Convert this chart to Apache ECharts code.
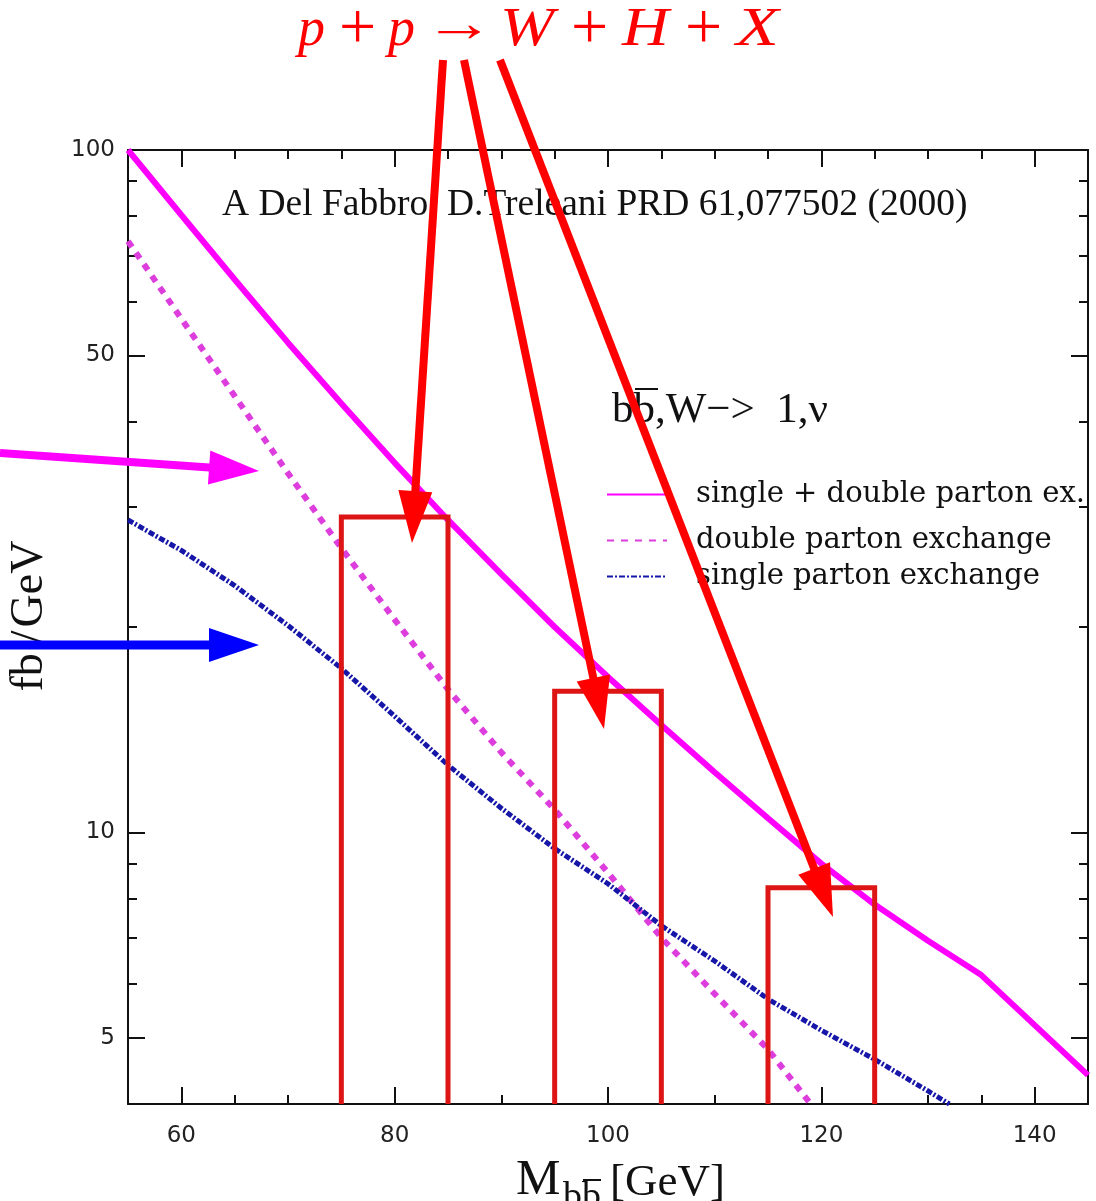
<!DOCTYPE html>
<html>
<head>
<meta charset="utf-8">
<script src="https://cdn.jsdelivr.net/npm/echarts@6/dist/echarts.min.js"></script>
<style>
  html, body { margin: 0; padding: 0; background: #fff; }
  #chart { width: 1096px; height: 1201px; }
</style>
</head>
<body>
<div id="chart"></div>
<script>
// Invariant-mass distribution of the b-bbar pair in p p -> W H X, W -> l nu
// (A. Del Fabbro, D. Treleani, PRD 61, 077502 (2000)).

// M_bb (GeV) and dsigma/dM (fb/GeV) for single + double parton exchange
const totalMass = [55, 60, 65, 70, 75, 80, 85, 90, 95, 100, 105, 110, 115, 120, 125, 130, 135, 140, 145];
const totalXs   = [100, 80.3, 64.6, 52.2, 42.5, 34.8, 28.7, 23.9, 20.0, 16.9, 14.37, 12.25, 10.49, 9.0, 7.84, 6.94, 6.18, 5.22, 4.41];

// double parton exchange
const doubleMass = [55, 60, 65, 70, 75, 80, 85, 90, 95, 100, 105, 110, 115, 119];
const doubleXs   = [73.5, 56.6, 43.6, 33.6, 26.1, 20.5, 16.2, 13.1, 10.8, 8.73, 7.01, 5.80, 4.81, 4.0];

// single parton exchange
const singleMass = [55, 60, 65, 70, 75, 80, 85, 90, 95, 100, 105, 110, 115, 120, 125, 130, 132];
const singleXs   = [28.7, 25.9, 23.0, 20.1, 17.4, 14.8, 12.55, 10.85, 9.47, 8.41, 7.3, 6.48, 5.70, 5.13, 4.65, 4.18, 4.0];

// Higgs signal windows (mass range and height)
const windowLow  = [75, 95, 115];
const windowHigh = [85, 105, 125];
const windowXs   = [29, 16.1, 8.3];

// axis ticks
const xMajorTicks = [60, 80, 100, 120, 140];
const yMajorTicks = [5, 10, 50, 100];
const yMinorTicks = [4, 5, 6, 7, 8, 9, 10, 20, 30, 40, 50, 60, 70, 80, 90, 100];

const seriesNames = ['single + double parton ex.', 'double parton exchange', 'single parton exchange'];

const zip = (xs, ys) => xs.map((x, i) => [x, ys[i]]);

const chart = echarts.init(document.getElementById('chart'), null, { renderer: 'canvas' });

const frame = { color: '#111', width: 2 };
const tickFont = { fontFamily: 'DejaVu Sans', fontSize: 23, color: '#222' };

function xAxisCfg(position, major, withLine, withLabels) {
  return {
    type: 'value', min: 55, max: 145, interval: 5, position: position,
    axisLine: { show: withLine, onZero: false, lineStyle: frame },
    axisTick: major
      ? { show: true, inside: true, length: 17, customValues: xMajorTicks, lineStyle: frame }
      : { show: true, inside: true, length: 9, lineStyle: frame },
    axisLabel: withLabels
      ? Object.assign({ show: true, margin: 21, customValues: xMajorTicks }, tickFont)
      : { show: false },
    splitLine: { show: false }
  };
}

function yAxisCfg(position, major, withLine, withLabels) {
  return {
    type: 'log', logBase: 10, min: 4, max: 100, position: position,
    axisLine: { show: withLine, onZero: false, lineStyle: frame },
    axisTick: { show: true, inside: true, length: major ? 17 : 9,
      customValues: major ? yMajorTicks : yMinorTicks, lineStyle: frame },
    axisLabel: withLabels
      ? Object.assign({ show: true, margin: 13, padding: [8, 0, 0, 0], customValues: yMajorTicks }, tickFont)
      : { show: false },
    splitLine: { show: false },
    minorTick: { show: false }
  };
}

function arrow(x1, y1, x2, y2, color, w, headLen, headW) {
  const dx = x2 - x1, dy = y2 - y1, L = Math.hypot(dx, dy);
  const ux = dx / L, uy = dy / L, nx = -uy, ny = ux;
  const bx = x2 - ux * headLen, by = y2 - uy * headLen;
  return [
    { type: 'line', z: 100, shape: { x1: x1, y1: y1, x2: bx + ux * 4, y2: by + uy * 4 },
      style: { stroke: color, lineWidth: w } },
    { type: 'polygon', z: 100,
      shape: { points: [[x2, y2], [bx + nx * headW / 2, by + ny * headW / 2], [bx - nx * headW / 2, by - ny * headW / 2]] },
      style: { fill: color } }
  ];
}

function legendCfg(name, top) {
  return {
    data: [name], left: 606, top: top, orient: 'vertical', selectedMode: false,
    itemWidth: 60, itemHeight: 14, padding: 0,
    itemStyle: { opacity: 0 },
    textStyle: { fontFamily: 'DejaVu Serif', fontSize: 29, color: '#111', padding: [0, 0, 0, 24] }
  };
}

function serifText(text, x, y, size, extra) {
  return Object.assign({
    type: 'text', x: x, y: y, z: 50,
    style: { text: text, fill: '#111', font: size + 'px "Liberation Serif"', verticalAlign: 'top', align: 'left' }
  }, extra || {});
}

// reaction label above the frame: italic symbols, upright operators
const reactionTokens = [
  { t: 'p', x: 298, y: 4, size: 54, italic: true },
  { t: '+', x: 339, y: -2, size: 66 },
  { t: 'p', x: 388, y: 4, size: 54, italic: true },
  { t: '\u2192', x: 424, y: 0, size: 54, sx: 1.3 },
  { t: 'W', x: 500, y: 4, size: 54, italic: true, sx: 1.2 },
  { t: '+', x: 571, y: -2, size: 66 },
  { t: 'H', x: 622, y: 4, size: 54, italic: true, sx: 1.2 },
  { t: '+', x: 685, y: -2, size: 66 },
  { t: 'X', x: 736, y: 4, size: 54, italic: true, sx: 1.3 }
];
const reactionGraphic = reactionTokens.map(function (k) {
  return {
    type: 'text', x: k.x, y: k.y, z: 100, scaleX: k.sx || 1,
    style: {
      text: k.t, fill: '#ff0000',
      font: (k.italic ? 'italic ' : '') + k.size + 'px "Liberation Serif"',
      verticalAlign: 'top', align: 'left'
    }
  };
});

const option = {
  backgroundColor: '#fff',
  animation: false,
  grid: { left: 128, right: 8, top: 150, bottom: 97, containLabel: false, outerBoundsMode: 'none' },
  xAxis: [
    xAxisCfg('bottom', false, true, true),
    xAxisCfg('bottom', true, false, false),
    xAxisCfg('top', false, true, false),
    xAxisCfg('top', true, false, false)
  ],
  yAxis: [
    yAxisCfg('left', false, true, true),
    yAxisCfg('left', true, false, false),
    yAxisCfg('right', false, true, false),
    yAxisCfg('right', true, false, false)
  ],
  legend: [
    legendCfg(seriesNames[0], 480),
    legendCfg(seriesNames[1], 526),
    legendCfg(seriesNames[2], 562)
  ],
  series: [
    {
      name: seriesNames[0], type: 'line', data: zip(totalMass, totalXs),
      symbol: 'none', clip: true, z: 3,
      itemStyle: { color: '#ff00ff' },
      lineStyle: { color: '#ff00ff', width: 6 }
    },
    {
      name: seriesNames[1], type: 'line', data: zip(doubleMass, doubleXs),
      symbol: 'none', clip: true, z: 3,
      itemStyle: { color: '#dd3ddd' },
      lineStyle: { color: '#dd3ddd', width: 6, type: [7, 7] }
    },
    {
      name: seriesNames[2], type: 'line', data: zip(singleMass, singleXs),
      symbol: 'none', clip: true, z: 3,
      itemStyle: { color: '#1616a8' },
      lineStyle: { color: '#1616a8', width: 5, type: [6, 2, 2, 2] }
    },
    {
      name: 'signal windows', type: 'custom', z: 4, clip: true,
      data: windowLow.map((lo, i) => [lo, windowHigh[i], windowXs[i]]),
      renderItem: function (params, api) {
        const lo = api.value(0), hi = api.value(1), v = api.value(2);
        const bl = api.coord([lo, 4]), tl = api.coord([lo, v]);
        const tr = api.coord([hi, v]), br = api.coord([hi, 4]);
        return {
          type: 'polyline',
          shape: { points: [bl, tl, tr, br] },
          style: { stroke: '#dd1515', lineWidth: 5, fill: null, lineJoin: 'miter' }
        };
      }
    }
  ],
  graphic: reactionGraphic.concat([
    serifText('A Del Fabbro, D.Treleani PRD 61,077502 (2000)', 222, 186, 37.5),
    serifText('bb,W\u2212>  1,\u03bd', 612, 389, 43),
    { type: 'line', z: 50, shape: { x1: 635, y1: 389, x2: 658, y2: 389 }, style: { stroke: '#111', lineWidth: 2 } },
    {
      type: 'text', x: 53, y: 616, rotation: Math.PI / 2, z: 50,
      style: {
        text: '{a|fb}{b|/}{c|GeV}', fill: '#111', align: 'center', verticalAlign: 'bottom',
        rich: {
          a: { fontSize: 46, fontFamily: 'Liberation Serif', fill: '#111', padding: [0, 10, 0, 0] },
          b: { fontSize: 46, fontFamily: 'Liberation Serif', fill: '#111', padding: [0, 3, 0, 0] },
          c: { fontSize: 46, fontFamily: 'Liberation Serif', fill: '#111' }
        }
      }
    },
    // M_{b bbar} [GeV]
    serifText('M', 516, 1156, 50),
    serifText('bb', 563, 1179, 38),
    { type: 'line', z: 50, shape: { x1: 583, y1: 1180, x2: 601, y2: 1180 }, style: { stroke: '#111', lineWidth: 2 } },
    serifText('[GeV]', 610, 1161, 45)
  ]).concat(
    arrow(443, 60, 412, 543, '#ff0000', 8, 52, 34),
    arrow(464, 60, 604, 729, '#ff0000', 8, 52, 34),
    arrow(500, 60, 833, 917, '#ff0000', 8, 52, 34),
    arrow(0, 453, 259, 471, '#ff00ff', 8, 50, 34),
    arrow(0, 645, 259, 645, '#0000ff', 9, 50, 34)
  )
};

chart.setOption(option);
</script>
</body>
</html>
